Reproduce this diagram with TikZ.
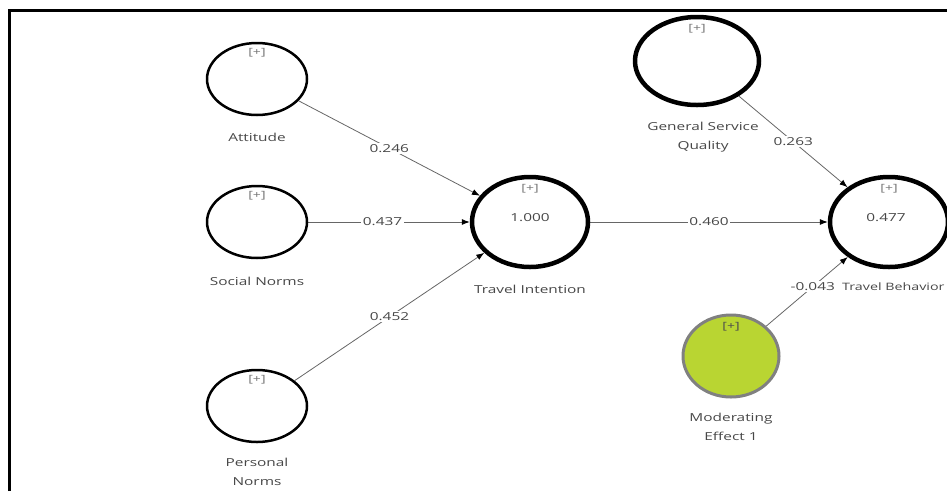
\documentclass[tikz,border=0pt]{standalone}
\usepackage{fontspec}
\setmainfont{Open Sans}[FakeStretch=1.4]
\usetikzlibrary{arrows.meta,shapes.geometric}
\pgfdeclarelayer{edgelayer}
\pgfdeclarelayer{nodelayer}
\pgfsetlayers{edgelayer,nodelayer,main}
\definecolor{linkgray}{HTML}{666666}
\definecolor{textgray}{HTML}{474747}
\definecolor{modgreen}{HTML}{B9D532}
\tikzstyle{link}=[draw=linkgray, line width=0.8pt, -{Latex[length=8pt,width=6pt,color=black]}]
\tikzstyle{coef}=[fill=white, inner sep=1.5pt, text=textgray, font=\fontsize{11}{13}\selectfont]
\tikzstyle{latent}=[ellipse, draw=black, fill=white, line width=2.5pt, minimum width=100pt, minimum height=72pt, inner sep=0pt]
\tikzstyle{endo}=[latent, line width=4.5pt, minimum width=116pt, minimum height=90pt]
\tikzstyle{moderator}=[latent, draw=gray, fill=modgreen, line width=3pt, minimum width=96pt, minimum height=82pt]
\tikzstyle{tag}=[text=textgray!75, inner sep=0pt, anchor=north, font=\fontsize{10}{12}\selectfont]
\tikzstyle{value}=[text=textgray, inner sep=0pt, font=\fontsize{11}{13}\selectfont]
\tikzstyle{caption}=[text=textgray, inner sep=0pt, align=center, font=\fontsize{11}{19}\selectfont]

\begin{document}
\begin{tikzpicture}[x=1pt, y=-1pt]
				\useasboundingbox (0,0) rectangle (947,491);
				\draw [line width=3pt] (9.5,491) -- (9.5,10.5) -- (947,10.5);
				\begin{pgfonlayer}{nodelayer}
					% constructs
					\node [style=latent] (att) at (257, 79) {};
					\node [style=latent] (soc) at (257, 222) {};
					\node [style=latent] (per) at (257, 406) {};
					\node [style=endo] (ti) at (530, 222) {};
					\node [style=endo, minimum width=124pt, minimum height=88pt] (gsq) at (697, 61) {};
					\node [style=endo, minimum width=118pt] (tb) at (889, 222) {};
					\node [style=moderator] (mod) at (731, 356) {};
					% [+] marks
					\node [style=tag] (att-tag) at ([yshift=-6pt]att.north) {[+]};
					\node [style=tag] (soc-tag) at ([yshift=-6pt]soc.north) {[+]};
					\node [style=tag] (per-tag) at ([yshift=-6pt]per.north) {[+]};
					\node [style=tag] (ti-tag) at ([yshift=-9pt]ti.north) {[+]};
					\node [style=tag] (gsq-tag) at ([yshift=-9pt]gsq.north) {[+]};
					\node [style=tag] (tb-tag) at ([yshift=-9pt]tb.north) {[+]};
					\node [style=tag, text=black!70] (mod-tag) at ([yshift=-9pt]mod.north) {[+]};
					% R squared
					\node [style=value] (ti-r2) at (530, 218) {1.000};
					\node [style=value] (tb-r2) at (886, 218) {0.477};
					% names
					\node [style=caption] (att-name) at (257, 137) {Attitude};
					\node [style=caption] (soc-name) at (257, 281) {Social Norms};
					\node [style=caption] (per-name) at (257, 472) {Personal\\Norms};
					\node [style=caption] (ti-name) at (530, 289) {Travel Intention};
					\node [style=caption] (gsq-name) at (703, 137) {General Service\\Quality};
					\node [style=caption, anchor=west, font=\fontsize{10.2}{12}\selectfont] (tb-name) at (842, 287) {Travel Behavior};
					\node [style=caption] (mod-name) at (731, 427) {Moderating\\Effect 1};
				\end{pgfonlayer}
				\begin{pgfonlayer}{edgelayer}
					\draw [style=link] (att) to node [style=coef] {0.246} (ti);
					\draw [style=link] (soc) to node [style=coef, pos=0.46] {0.437} (ti);
					\draw [style=link] (per) to node [style=coef] {0.452} (ti);
					\draw [style=link] (ti) to node [style=coef] {0.460} (tb);
					\draw [style=link] (gsq) to node [style=coef] {0.263} (tb);
					\draw [style=link] (mod) to node [style=coef, pos=0.57] {-0.043} (tb);
				\end{pgfonlayer}
			\end{tikzpicture}
\end{document}
